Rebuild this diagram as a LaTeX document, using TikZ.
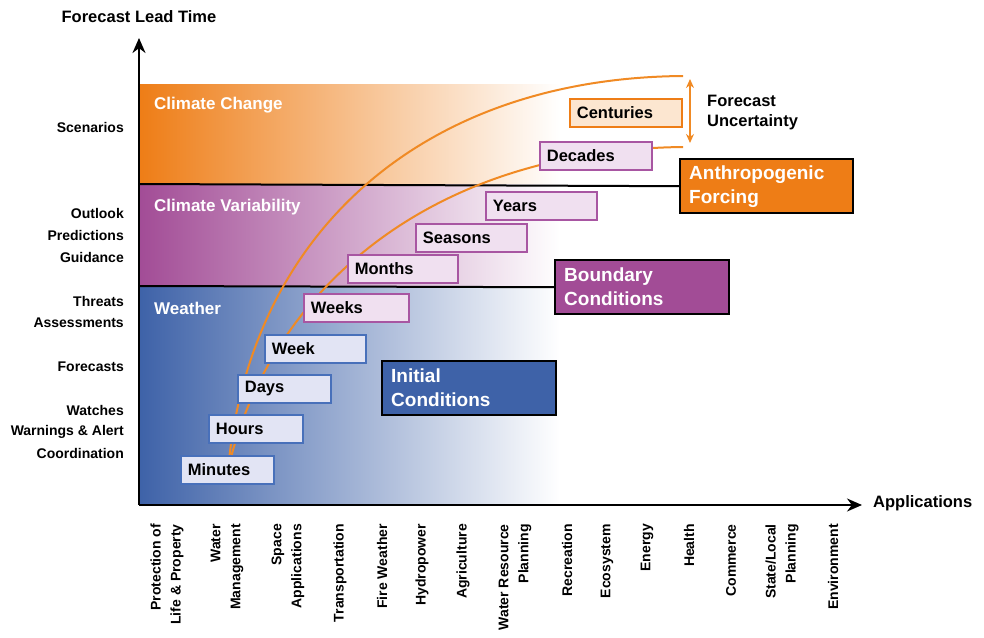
\documentclass[tikz,border=0pt]{standalone}
\usepackage{fontspec}
\setmainfont{Liberation Sans}
\usepackage{tikz}
\usetikzlibrary{arrows.meta}
\usetikzlibrary{positioning}

\definecolor{ccorange}{RGB}{238,125,22}
\definecolor{cvpurple}{RGB}{162,76,150}
\definecolor{wxblue}{RGB}{62,98,168}
\definecolor{curveorange}{RGB}{240,138,36}
\definecolor{wxpale}{RGB}{226,228,244}
\definecolor{wxedge}{RGB}{72,112,186}
\definecolor{cvpale}{RGB}{240,224,240}
\definecolor{cvedge}{RGB}{168,86,162}
\definecolor{ccpale}{RGB}{252,230,208}

\tikzset{
  band/.style={white, anchor=west, inner sep=0pt, font=\fontsize{17}{20}\selectfont\bfseries},
  lead/.style={anchor=east, inner sep=0pt, font=\fontsize{14}{20}\selectfont\bfseries},
  appl/.style={rotate=90, anchor=east, align=right, inner sep=0pt, font=\fontsize{14}{20}\selectfont\bfseries},
  span/.style={anchor=north west, minimum height=28pt, text width=#1, inner xsep=7pt, align=left,
    line width=1.8pt, font=\fontsize{16.5}{20}\selectfont\bfseries},
  wxspan/.style={span=#1, draw=wxedge, fill=wxpale},
  cvspan/.style={span=#1, draw=cvedge, fill=cvpale},
  ccspan/.style={span=#1, draw=ccorange, fill=ccpale},
  driver/.style={anchor=north west, minimum height=54pt, text width=#1, inner xsep=9pt, align=left,
    draw=black, line width=2.4pt, text=white, font=\fontsize{19}{24}\selectfont\bfseries},
  axis/.style={line width=2pt, -{Stealth[length=15pt,width=13pt]}},
  lead time/.style={curveorange, line width=2pt},
}

\begin{document}
\begin{tikzpicture}[x=1pt, y=-1pt]
\useasboundingbox (0,0) rectangle (984,637);

% shaded bands
\shade[left color=ccorange, right color=white] (139,84) rectangle (560,184);
\shade[left color=cvpurple, right color=white] (139,184) rectangle (560,286);
\shade[left color=wxblue, right color=white] (139,286) rectangle (560,505);

\node[band] (change) at (154,105) {Climate Change};
\node[band] (variability) at (154,207) {Climate Variability};
\node[band] (weather) at (154,308) {Weather};

% drivers
\node[driver=155pt, fill=ccorange] (forcing) at (679,158) {Anthropogenic\\Forcing};
\node[driver=156pt, fill=cvpurple] (boundary) at (554,259) {Boundary\\Conditions};
\node[driver=156pt, fill=wxblue] (initial) at (381,360) {Initial\\Conditions};
\draw[line width=2pt] (139,184) -- (forcing.west);
\draw[line width=2pt] (139,286) -- (boundary.west);

% axes
\coordinate (origin) at (139,505);
\coordinate (ytip) at (139,38);
\coordinate (xtip) at (862,505);
\draw[axis] (origin) -- (ytip);
\draw[axis] (origin) -- (xtip);
\node (leadtime) at (139,17) {\fontsize{16.5}{20}\selectfont\bfseries Forecast Lead Time};
\node[anchor=west, inner sep=0pt] (applications) at (873,503) {\fontsize{16.5}{20}\selectfont\bfseries Applications};

% uncertainty envelope
\coordinate (root) at (228,470);
\coordinate (upper) at (683,76);
\coordinate (lower) at (683,147);
\draw[lead time] (root) .. controls (250,230) and (425,78) .. (upper);
\draw[lead time] (root) .. controls (266,300) and (420,150) .. (lower);
\coordinate (unctop) at (690,79);
\coordinate (uncbot) at (690,143);
\draw[lead time, line width=1.6pt, {Stealth[length=9pt,width=8pt]}-{Stealth[length=9pt,width=8pt]}] (unctop) -- (uncbot);
\node[anchor=west, align=left, inner sep=0pt, font=\fontsize{16.5}{20}\selectfont\bfseries] (uncertainty) at (707,113) {Forecast\\Uncertainty};

% time spans
\node[wxspan=79pt] (minutes) at (180,455) {Minutes};
\node[wxspan=80pt] (hours) at (208,414) {Hours};
\node[wxspan=79pt] (days) at (237,374) {Days};
\node[wxspan=87pt] (week) at (264,334) {Week};
\node[cvspan=91pt] (weeks) at (303,293) {Weeks};
\node[cvspan=96pt] (months) at (347,254) {Months};
\node[cvspan=97pt] (seasons) at (415,223) {Seasons};
\node[cvspan=97pt] (years) at (485,191) {Years};
\node[cvspan=98pt] (decades) at (539,141) {Decades};
\node[ccspan=98pt] (centuries) at (569,98) {Centuries};

% products
\foreach \txt/\y [count=\i] in {Scenarios/127, Outlook/213, Predictions/235, Guidance/257, Threats/301,
  Assessments/323, Forecasts/367, Watches/410, Warnings \& Alert/432, Coordination/453}
  \node[lead] (lead\i) at (124,\y) {\txt};

% users
\foreach \txt/\x [count=\i] in {{Protection of\\Life \& Property}/167, {Water\\Management}/227,
  {Space\\Applications}/288, Transportation/340, Fire Weather/382, Hydropower/422, Agriculture/463,
  {Water Resource\\Planning}/515, Recreation/567, Ecosystem/607, Energy/647, Health/689,
  Commerce/731, {State/Local\\Planning}/782, Environment/833}
  \node[appl] (app\i) at (\x,524) {\txt};
\end{tikzpicture}
\end{document}
